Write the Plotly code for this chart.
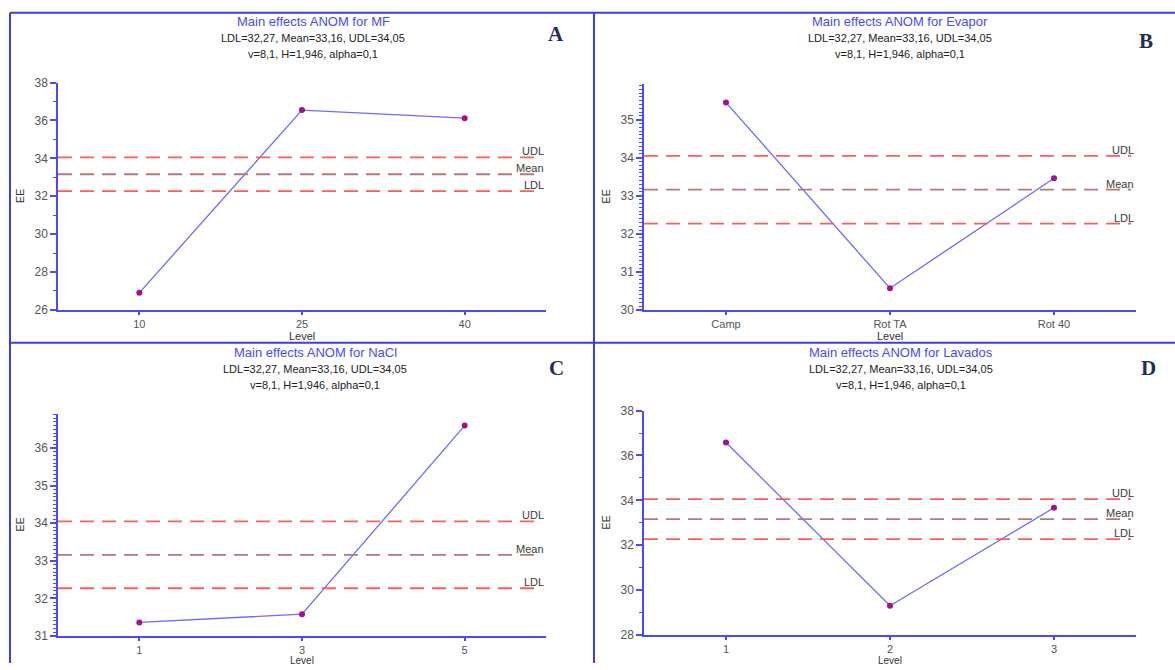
import plotly.graph_objects as go

# ANOM decision limits shared by all four factors
LDL, MEAN, UDL = 32.27, 33.16, 34.05

# Factor levels and mean EE response at each level
mf_levels = ["10", "25", "40"]
mf_ee = [26.9, 36.55, 36.12]

evapor_levels = ["Camp", "Rot TA", "Rot 40"]
evapor_ee = [35.45, 30.57, 33.46]

nacl_levels = ["1", "3", "5"]
nacl_ee = [31.36, 31.58, 36.6]

lavados_levels = ["1", "2", "3"]
lavados_ee = [36.58, 29.3, 33.67]

W, H = 1175, 670
FONT = "Liberation Sans, Arial, sans-serif"
AXIS_BLUE = "#4a4aff"
LINE_BLUE = "#6b6bff"
MARKER = "#a0109a"
TICK_TXT = "#555555"


def px_x(x):
    return x / W


def px_y(y):
    # page pixel row -> paper fraction (small correction for the rendered page height)
    y = (y - 6.2) / 0.982
    return 1 - y / H


# name, levels, values, letter, plot box (left, right, top, bottom px),
# y range, major/minor tick step, title centre x, title top y, letter pos
panels = [
    ("MF", mf_levels, mf_ee, "A", (58, 546, 82, 310), (26, 38), 2, 1, 313, 21, (556, 33)),
    ("Evapor", evapor_levels, evapor_ee, "B", (644, 1136, 83, 310), (30, 35.95), 1, 0.1, 900, 21, (1146, 40)),
    ("NaCl", nacl_levels, nacl_ee, "C", (58, 546, 414, 637), (31, 36.92), 1, 0.1, 315, 353, (556, 368)),
    ("Lavados", lavados_levels, lavados_ee, "D", (644, 1136, 411, 636), (28, 38), 2, 1, 901, 353, (1148, 368)),
]

fig = go.Figure()
layout = {}
annotations = []
shapes = []

for i, (name, levels, vals, letter, box, yr, dt, mdt, tx, ty, lpos) in enumerate(panels, start=1):
    xa = "xaxis" if i == 1 else f"xaxis{i}"
    ya = "yaxis" if i == 1 else f"yaxis{i}"
    xr = "x" if i == 1 else f"x{i}"
    yref = "y" if i == 1 else f"y{i}"
    left, right, top, bottom = box

    fig.add_trace(go.Scatter(
        x=levels, y=vals, mode="lines+markers",
        line=dict(color=LINE_BLUE, width=1.3),
        marker=dict(color=MARKER, size=6),
        xaxis=xr, yaxis=yref, showlegend=False,
    ))

    layout[xa] = dict(
        domain=[px_x(left), px_x(right)], anchor=yref,
        type="category", categoryorder="array", categoryarray=levels,
        range=[-0.5, 2.5], showline=True, linecolor=AXIS_BLUE, linewidth=1.5,
        ticks="outside", ticklen=3, tickcolor=AXIS_BLUE, tickwidth=1.5,
        showgrid=False, zeroline=False,
        tickfont=dict(family=FONT, size=11, color=TICK_TXT),
    )
    layout[ya] = dict(
        domain=[px_y(bottom), px_y(top)], anchor=xr,
        range=list(yr), dtick=dt, tick0=0, showline=True, linecolor=AXIS_BLUE, linewidth=1.5,
        ticks="outside", ticklen=6, tickcolor=AXIS_BLUE, tickwidth=1.5,
        minor=dict(dtick=mdt, ticks="outside", ticklen=3, tickcolor=AXIS_BLUE, tickwidth=1),
        showgrid=False, zeroline=False,
        tickfont=dict(family=FONT, size=12, color=TICK_TXT),
    )

    # decision limits and centre line
    for val, col, lab in [(UDL, "#ff5c5c", "UDL"), (MEAN, "#b47a7a", "Mean"), (LDL, "#ff5c5c", "LDL")]:
        shapes.append(dict(
            type="line", xref=f"{xr} domain", yref=yref, x0=0, x1=0.99, y0=val, y1=val,
            line=dict(color=col, width=1.8, dash="14px,8px"),
        ))
        annotations.append(dict(
            xref=f"{xr} domain", yref=yref, x=1.0, y=val, text=lab, showarrow=False,
            xanchor="right", yanchor="bottom", yshift=-2,
            font=dict(family=FONT, size=11, color="#3a3a3a"),
        ))

    # titles
    annotations.append(dict(
        xref="paper", yref="paper", x=px_x(tx), y=px_y(ty), text=f"Main effects ANOM for {name}",
        showarrow=False, xanchor="center", yanchor="middle",
        font=dict(family=FONT, size=13, color="#4a4aff"),
    ))
    annotations.append(dict(
        xref="paper", yref="paper", x=px_x(tx), y=px_y(ty + 16),
        text="LDL=32,27, Mean=33,16, UDL=34,05",
        showarrow=False, xanchor="center", yanchor="middle",
        font=dict(family=FONT, size=11, color="#222222"),
    ))
    annotations.append(dict(
        xref="paper", yref="paper", x=px_x(tx), y=px_y(ty + 32),
        text="v=8,1, H=1,946, alpha=0,1",
        showarrow=False, xanchor="center", yanchor="middle",
        font=dict(family=FONT, size=11, color="#222222"),
    ))
    # panel letter
    annotations.append(dict(
        xref="paper", yref="paper", x=px_x(lpos[0]), y=px_y(lpos[1]), text=f"<b>{letter}</b>",
        showarrow=False, xanchor="center", yanchor="middle",
        font=dict(family="Liberation Serif, Times New Roman, serif", size=21, color="#1f2f55"),
    ))
    # axis titles
    annotations.append(dict(
        xref="paper", yref="paper", x=px_x(left - 38), y=px_y((top + bottom) / 2), text="EE",
        showarrow=False, xanchor="center", yanchor="middle", textangle=-90,
        font=dict(family=FONT, size=11, color="#333333"),
    ))
    if bottom < 400:
        level_y, level_anchor, level_size = bottom + 26, "middle", 11
    else:
        level_y, level_anchor, level_size = 669, "bottom", 10
    annotations.append(dict(
        xref="paper", yref="paper", x=px_x((left + right) / 2), y=px_y(level_y), text="Level",
        showarrow=False, xanchor="center", yanchor=level_anchor,
        font=dict(family=FONT, size=level_size, color="#333333"),
    ))

# panel frame lines
FRAME = "#3c3cee"
shapes += [
    dict(type="line", xref="paper", yref="paper", x0=px_x(10), x1=1, y0=px_y(12), y1=px_y(12), line=dict(color=FRAME, width=2)),
    dict(type="line", xref="paper", yref="paper", x0=px_x(10), x1=1, y0=px_y(343), y1=px_y(343), line=dict(color=FRAME, width=2)),
    dict(type="line", xref="paper", yref="paper", x0=px_x(10), x1=px_x(10), y0=0, y1=px_y(12), line=dict(color=FRAME, width=2)),
    dict(type="line", xref="paper", yref="paper", x0=px_x(594), x1=px_x(594), y0=0, y1=px_y(12), line=dict(color=FRAME, width=2)),
]

fig.update_layout(
    width=W, height=H, margin=dict(l=0, r=0, t=0, b=0),
    paper_bgcolor="white", plot_bgcolor="white",
    annotations=annotations, shapes=shapes, showlegend=False,
    **layout,
)

fig.write_html("out.html")
